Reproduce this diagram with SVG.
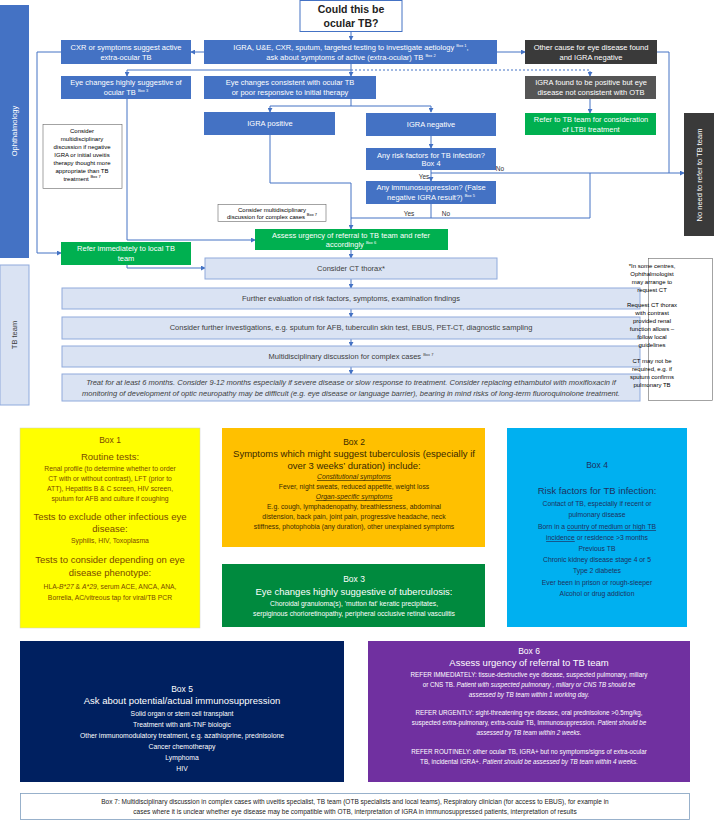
<svg xmlns="http://www.w3.org/2000/svg" width="714" height="821" viewBox="0 0 714 821">
<defs>
<marker id="a" viewBox="0 0 6 6" refX="5" refY="3" markerWidth="5" markerHeight="5" orient="auto"><path d="M0,0L6,3L0,6z" fill="#4472c4"/></marker>
<style>
text{font-family:"Liberation Sans","Open Sans",sans-serif;text-anchor:middle}
.b{fill:#4472c4}.g{fill:#00b050}.l{fill:#dae3f3;stroke:#8faadc;stroke-width:1}
.w{fill:#fff;font-size:7.5px}.d{fill:#404040;font-size:7.5px}.k{fill:#000;font-size:6px}
.c{fill:none;stroke:#4472c4;stroke-width:1}
.s{font-size:4px}
</style>
</defs>
<rect width="714" height="821" fill="#fff"/>
<g id="lanes">
<rect x="0" y="5" width="29" height="253" class="b"/>
<text class="w" transform="translate(17,131) rotate(-90)">Ophthalmology</text>
<rect x="0" y="265" width="29" height="140" class="l"/>
<text class="d" transform="translate(17,335) rotate(-90)">TB team</text>
</g>
<g id="connectors" class="c">
<path d="M351,31V40" marker-end="url(#a)"/>
<path d="M204,52H191" marker-end="url(#a)"/>
<path d="M497,52H525" marker-end="url(#a)"/>
<path d="M351,64V76" marker-end="url(#a)"/>
<path d="M351,70H127V76" marker-end="url(#a)"/>
<path d="M351,70H590V76" stroke-dasharray="2,2" marker-end="url(#a)"/>
<path d="M351,99V106H270V112" marker-end="url(#a)"/>
<path d="M351,106H431V112" marker-end="url(#a)"/>
<path d="M431,136V148" marker-end="url(#a)"/>
<path d="M431,170V181" marker-end="url(#a)"/>
<path d="M431,173H684" marker-end="url(#a)"/>
<path d="M431,204V218H590V173"/>
<path d="M431,218H351"/>
<path d="M270,135V183H351V229" marker-end="url(#a)"/>
<path d="M127,99V240H255" marker-end="url(#a)"/>
<path d="M61,52H37V253H61" marker-end="url(#a)"/>
<path d="M127,265V268H205" marker-end="url(#a)"/>
<path d="M351,250V258" marker-end="url(#a)"/>
<path d="M657,52H669V173"/>
<path d="M590,99V113" marker-end="url(#a)"/>
<path d="M351,279V288" marker-end="url(#a)"/>
<path d="M351,309V317" marker-end="url(#a)"/>
<path d="M351,339V346" marker-end="url(#a)"/>
<path d="M351,367V374" marker-end="url(#a)"/>
</g>
<g id="title"><rect x="300" y="0.5" width="102" height="31" fill="#fff" stroke="#4472c4"/>
<text x="351" y="13" font-size="10.5" font-weight="bold" fill="#222">Could this be</text>
<text x="351" y="27" font-size="10.5" font-weight="bold" fill="#222">ocular TB?</text></g>
<g id="cxr"><rect x="61" y="40" width="130" height="24" class="b"/><text class="w" x="126" y="50">CXR or symptoms suggest active</text><text class="w" x="126" y="60">extra-ocular TB</text></g>
<g id="igra-tests"><rect x="204" y="40" width="293" height="24" class="b"/><text class="w" x="351" y="50">IGRA, U&amp;E, CXR, sputum, targeted testing to investigate aetiology <tspan class="s" dy="-3">Box 1</tspan><tspan dy="3">,</tspan></text><text class="w" x="351" y="60">ask about symptoms of active (extra-ocular) TB <tspan class="s" dy="-3">Box 2</tspan></text></g>
<g id="other"><rect x="525" y="40" width="132" height="24" fill="#3a3a3a"/><text class="w" x="591" y="50">Other cause for eye disease found</text><text class="w" x="591" y="60">and IGRA negative</text></g>
<g id="eye-high"><rect x="61" y="76" width="130" height="23" class="b"/><text class="w" x="126" y="85">Eye changes highly suggestive of</text><text class="w" x="126" y="95">ocular TB <tspan class="s" dy="-3">Box 3</tspan></text></g>
<g id="eye-cons"><rect x="204" y="76" width="172" height="23" class="b"/><text class="w" x="290" y="85">Eye changes consistent with ocular TB</text><text class="w" x="290" y="95">or poor responsive to initial therapy</text></g>
<g id="igra-found"><rect x="525" y="76" width="131" height="23" fill="#555"/><text class="w" x="591" y="85">IGRA found to be positive but eye</text><text class="w" x="591" y="95">disease not consistent with OTB</text></g>
<g id="igra-pos"><rect x="204" y="112" width="131" height="23" class="b"/><text class="w" x="270" y="126">IGRA positive</text></g>
<g id="igra-neg"><rect x="366" y="113" width="130" height="23" class="b"/><text class="w" x="431" y="127">IGRA negative</text></g>
<g id="ltbi"><rect x="525" y="113" width="131" height="22" class="g"/><text class="w" x="591" y="122">Refer to TB team for consideration</text><text class="w" x="591" y="132">of LTBI treatment</text></g>
<g id="risk"><rect x="366" y="148" width="130" height="22" class="b"/><text class="w" x="431" y="158">Any risk factors for TB infection?</text><text class="w" x="431" y="166" font-size="4">Box 4</text></g>
<g id="immuno"><rect x="366" y="181" width="130" height="23" class="b"/><text class="w" x="431" y="190">Any immunosuppression? (False</text><text class="w" x="431" y="200">negative IGRA result?) <tspan class="s" dy="-3">Box 5</tspan></text></g>
<g id="labels" font-size="6.5" fill="#333"><text x="500" y="171">No</text><text x="424" y="179">Yes</text><text x="409" y="216">Yes</text><text x="446" y="216">No</text></g>
<g id="noneed"><rect x="684" y="113" width="30" height="123" fill="#3a3a3a"/><text class="w" transform="translate(702,175) rotate(-90)">No need to refer to TB team</text></g>
<g id="mdt1"><rect x="43" y="124.5" width="79" height="64" fill="#fff" stroke="#666" stroke-width="0.6"/>
<g class="k" font-size="6"><text x="82" y="133">Consider</text><text x="82" y="141">multidisciplinary</text><text x="82" y="149">discussion if negative</text><text x="82" y="157">IGRA or initial uveitis</text><text x="82" y="165">therapy thought more</text><text x="82" y="173">appropriate than TB</text><text x="82" y="181">treatment <tspan class="s" dy="-3">Box 7</tspan></text></g></g>
<g id="mdt2"><rect x="218" y="204.5" width="108" height="17" fill="#fff" stroke="#666" stroke-width="0.6"/><text class="k" x="272" y="212">Consider multidisciplinary</text><text class="k" x="272" y="219">discussion for complex cases <tspan class="s" dy="-3">Box 7</tspan></text></g>
<g id="assess"><rect x="255" y="229" width="193" height="21" class="g"/><text class="w" x="351" y="238">Assess urgency of referral to TB team and refer</text><text class="w" x="351" y="247">accordingly <tspan class="s" dy="-3">Box 6</tspan></text></g>
<g id="refer-imm"><rect x="61" y="242" width="130" height="23" class="g"/><text class="w" x="126" y="251">Refer immediately to local TB</text><text class="w" x="126" y="261">team</text></g>
<g id="ct"><rect x="205" y="258" width="292" height="21" class="l"/><text class="d" x="351" y="271">Consider CT thorax*</text></g>
<g id="further"><rect x="62" y="288" width="578" height="21" class="l"/><text class="d" x="351" y="301">Further evaluation of risk factors, symptoms, examination findings</text></g>
<g id="invest"><rect x="62" y="317" width="578" height="22" class="l"/><text class="d" x="351" y="330">Consider further investigations, e.g. sputum for AFB, tuberculin skin test, EBUS, PET-CT, diagnostic sampling</text></g>
<g id="mdt3"><rect x="62" y="346" width="578" height="21" class="l"/><text class="d" x="351" y="359">Multidisciplinary discussion for complex cases <tspan class="s" dy="-3">Box 7</tspan></text></g>
<g id="treat"><rect x="62" y="374" width="578" height="27" class="l"/><text class="d" font-style="italic" font-size="7" x="351" y="385">Treat for at least 6 months. Consider 9-12 months especially if severe disease or slow response to treatment. Consider replacing ethambutol with moxifloxacin if</text><text class="d" font-style="italic" font-size="7" x="351" y="396">monitoring of development of optic neuropathy may be difficult (e.g. eye disease or language barrier), bearing in mind risks of long-term fluoroquinolone treatment.</text></g>
<g id="note"><rect x="648.5" y="258.5" width="64" height="142" fill="#fff" stroke="#666" stroke-width="0.6"/>
<g class="k" font-size="5.5" style="text-anchor:start"><text x="652" y="268">*In some centres,</text><text x="652" y="276">Ophthalmologist</text><text x="652" y="284">may arrange to</text><text x="652" y="292">request CT</text><text x="652" y="307">Request CT thorax</text><text x="652" y="315">with contrast</text><text x="652" y="323">provided renal</text><text x="652" y="331">function allows –</text><text x="652" y="339">follow local</text><text x="652" y="347">guidelines</text><text x="652" y="363">CT may not be</text><text x="652" y="371">required, e.g. if</text><text x="652" y="379">sputum confirms</text><text x="652" y="387">pulmonary TB</text></g></g>
<g id="box1"><rect x="20" y="428" width="180" height="200" fill="#ffff00" stroke="#ccc" stroke-width="0.5"/>
<g fill="#7a4a00"><text x="110" y="443" font-size="8.5">Box 1</text><text x="110" y="460" font-size="9.5">Routine tests:</text>
<g font-size="6.8"><text x="110" y="471">Renal profile (to determine whether to order</text><text x="110" y="481">CT with or without  contrast), LFT (prior to</text><text x="110" y="491">ATT), Hepatitis B &amp; C screen, HIV screen,</text><text x="110" y="501">sputum for AFB and culture if coughing</text></g>
<text x="110" y="520" font-size="9.5">Tests  to exclude other infectious eye</text><text x="110" y="532" font-size="9.5">disease:</text><text x="110" y="543" font-size="6.8">Syphilis, HIV, Toxoplasma</text>
<text x="110" y="563" font-size="9.5">Tests to consider depending on eye</text><text x="110" y="576" font-size="9.5">disease phenotype:</text>
<text x="110" y="589" font-size="6.8">HLA-<tspan font-style="italic">B*27</tspan> &amp; <tspan font-style="italic">A*29</tspan>, serum ACE, ANCA, ANA,</text><text x="110" y="600" font-size="6.8">Borrelia, AC/vitreous tap for viral/TB PCR</text></g></g>
<g id="box2"><rect x="222" y="428" width="263" height="119" fill="#ffc000"/>
<g fill="#3a2a00"><text x="354" y="445" font-size="8.5">Box 2</text><text x="354" y="457" font-size="9.5">Symptoms which might suggest tuberculosis (especially if</text><text x="354" y="469" font-size="9.5">over 3 weeks’ duration) include:</text>
<g font-size="6.8"><text x="354" y="479" font-style="italic" text-decoration="underline">Constitutional symptoms</text><text x="354" y="489">Fever, night sweats, reduced appetite, weight loss</text><text x="354" y="499" font-style="italic" text-decoration="underline">Organ-specific symptoms</text><text x="354" y="509">E.g. cough, lymphadenopathy, breathlessness, abdominal</text><text x="354" y="519">distension, back pain, joint pain, progressive headache, neck</text><text x="354" y="529">stiffness, photophobia (any duration), other unexplained symptoms</text></g></g></g>
<g id="box3"><rect x="222" y="564" width="263" height="63" fill="#008a3e"/>
<g fill="#fff"><text x="354" y="582" font-size="8.5">Box 3</text><text x="354" y="595" font-size="9.5">Eye changes  highly suggestive of tuberculosis:</text><text x="354" y="606" font-size="6.8">Choroidal granuloma(s), 'mutton  fat' keratic precipitates,</text><text x="354" y="616" font-size="6.8">serpiginous chorioretinopathy,  peripheral  occlusive retinal vasculitis</text></g></g>
<g id="box4"><rect x="507" y="428" width="180" height="199" fill="#00b0f0"/>
<g fill="#1f3060"><text x="597" y="468" font-size="8.5">Box 4</text><text x="597" y="494" font-size="9.5">Risk factors for TB infection:</text>
<g font-size="6.8"><text x="597" y="506">Contact of TB, especially if recent or</text><text x="597" y="517">pulmonary  disease</text><text x="597" y="529">Born  in a <tspan text-decoration="underline">country of medium  or high TB</tspan></text><text x="597" y="540"><tspan text-decoration="underline">incidence</tspan> or residence &gt;3 months</text><text x="597" y="551">Previous TB</text><text x="597" y="562">Chronic kidney disease stage 4 or 5</text><text x="597" y="573">Type 2 diabetes</text><text x="597" y="585">Ever been in prison or rough-sleeper</text><text x="597" y="596">Alcohol or drug addiction</text></g></g></g>
<g id="box5"><rect x="20" y="641" width="324" height="141" fill="#002060"/>
<g fill="#fff"><text x="182" y="692" font-size="8.5">Box 5</text><text x="182" y="704" font-size="9.5">Ask about potential/actual immunosuppression</text>
<g font-size="6.8"><text x="182" y="716">Solid organ or stem cell transplant</text><text x="182" y="727">Treatment with anti-TNF biologic</text><text x="182" y="738">Other immunomodulatory  treatment,  e.g. azathioprine, prednisolone</text><text x="182" y="749">Cancer chemotherapy</text><text x="182" y="760">Lymphoma</text><text x="182" y="771">HIV</text></g></g></g>
<g id="box6"><rect x="368" y="641" width="322" height="141" fill="#7030a0"/>
<g fill="#fff"><text x="529" y="654" font-size="8.5">Box 6</text><text x="529" y="666" font-size="9.5">Assess urgency of referral to TB team</text>
<g font-size="6.3"><text x="529" y="677">REFER IMMEDIATELY: tissue-destructive eye disease, suspected pulmonary,  miliary</text><text x="529" y="687">or CNS TB. <tspan font-style="italic">Patient  with suspected pulmonary , miliary or CNS TB should be</tspan></text><text x="529" y="697" font-style="italic">assessed by TB team within  1 working  day.</text>
<text x="529" y="715">REFER URGENTLY: sight-threatening eye disease, oral prednisolone &gt;0.5mg/kg,</text><text x="529" y="725">suspected extra-pulmonary,  extra-ocular TB, Immunosuppression. <tspan font-style="italic">Patient should be</tspan></text><text x="529" y="735" font-style="italic">assessed by TB team within 2 weeks.</text>
<text x="529" y="754">REFER ROUTINELY: other ocular TB, IGRA+ but no symptoms/signs of extra-ocular</text><text x="529" y="764">TB, incidental IGRA+. <tspan font-style="italic">Patient should be assessed by TB team within 4 weeks.</tspan></text></g></g></g>
<g id="box7"><rect x="20.5" y="793.5" width="669" height="26" fill="#fff" stroke="#7f9fbf" stroke-width="0.8"/>
<g fill="#222" font-size="6.5"><text x="355" y="804">Box 7: Multidisciplinary discussion in complex cases with uveitis specialist, TB team (OTB specialists and local teams), Respiratory clinician (for access to EBUS), for example in</text><text x="355" y="814">cases where it is unclear whether eye disease may be compatible with OTB, interpretation of IGRA  in immunosuppressed patients, interpretation of results</text></g></g>
</svg>
